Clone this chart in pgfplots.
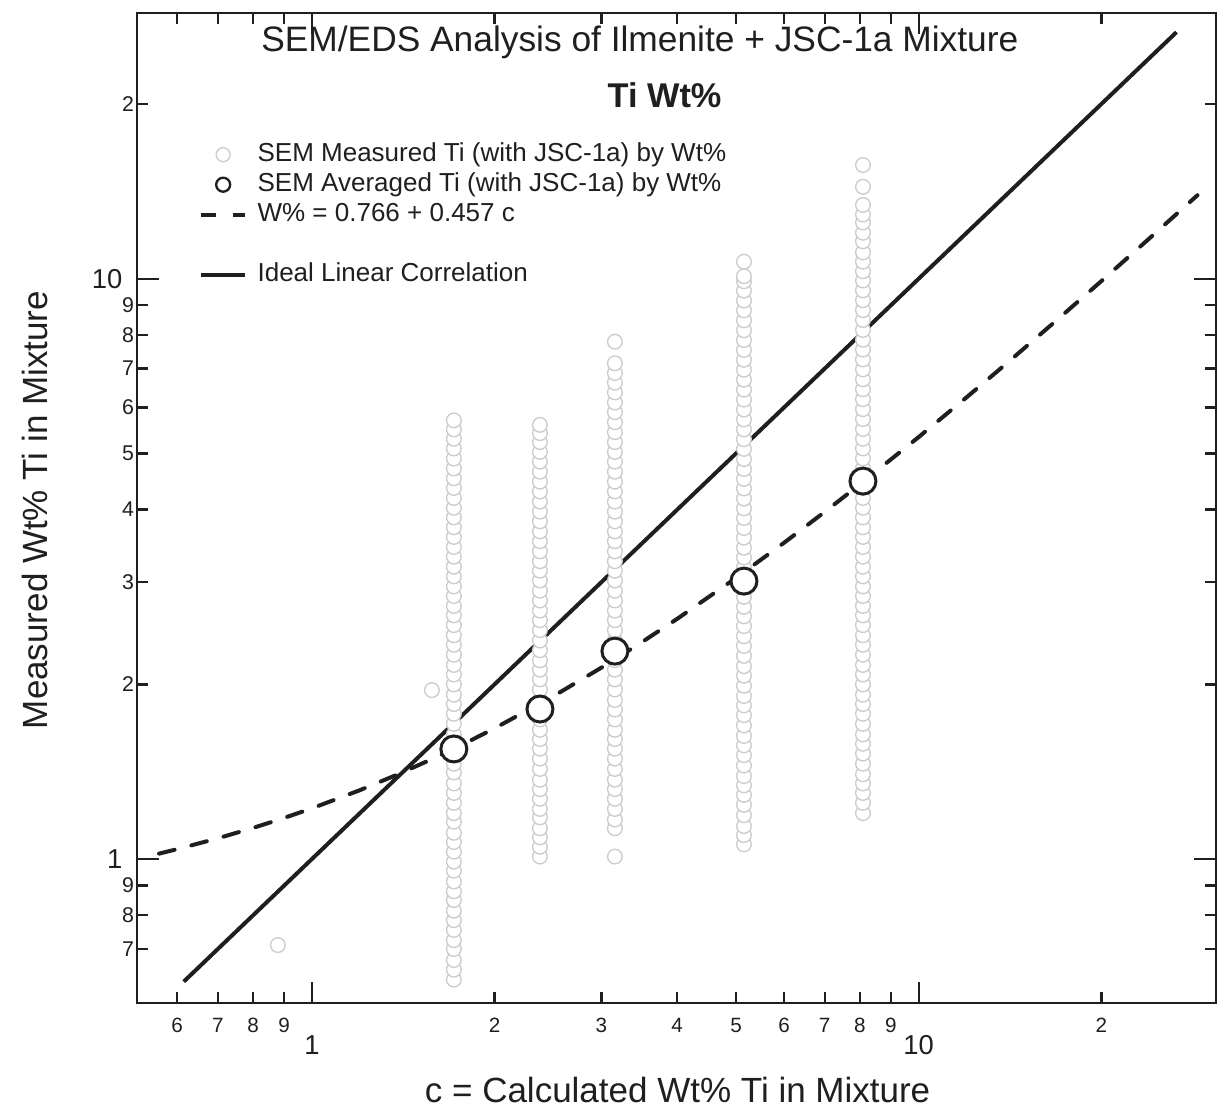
\documentclass[border=0pt]{standalone}
\usepackage{pgfplots}
\pgfplotsset{compat=1.18}
\usepackage{fontspec}
\setmainfont{Liberation Sans}
\definecolor{ink}{gray}{0.12}
\definecolor{meas}{gray}{0.80}

\begin{document}
\begin{tikzpicture}
\begin{axis}[
  name=ax,
  scale only axis, width=323.7pt, height=297pt,
  xmode=log, ymode=log,
  xmin=0.515, xmax=30.9, ymin=0.565, ymax=28.7,
  axis line style={line width=0.75pt, ink},
  every tick/.style={line width=0.7pt, ink},
  major tick length=3.2pt, minor tick length=0pt,
  xtick={0.6,0.7,0.8,0.9,2,3,4,5,6,7,8,9,20},
  xticklabels={6,7,8,9,2,3,4,5,6,7,8,9,2},
  ytick={0.7,0.8,0.9,2,3,4,5,6,7,8,9,20},
  yticklabels={7,8,9,2,3,4,5,6,7,8,9,2},
  xticklabel style={font=\fontsize{6.2}{7}\selectfont, text=ink, yshift=-1pt},
  yticklabel style={font=\fontsize{6.4}{7}\selectfont, text=ink, xshift=2.6pt},
  extra x ticks={1,10}, extra x tick labels={1,10},
  extra y ticks={1,10}, extra y tick labels={1,10},
  extra x tick style={major tick length=6.3pt, xticklabel style={font=\fontsize{8.2}{9}\selectfont, yshift=-5.3pt}},
  extra y tick style={major tick length=6.6pt, yticklabel style={font=\fontsize{8.2}{9}\selectfont, xshift=-3.5pt}},
  xlabel={c = Calculated Wt\% Ti in Mixture},
  ylabel={Measured Wt\% Ti in Mixture},
  xlabel style={at={(axis description cs:0.501,-0.088)}, anchor=center, font=\fontsize{10.5}{12}\selectfont, text=ink},
  ylabel style={at={(axis description cs:-0.0945,0.498)}, anchor=center, font=\fontsize{10.5}{12}\selectfont, text=ink},
  legend image code/.code={\draw[mark repeat=2,mark phase=2,#1] plot coordinates {(0cm,0cm) (0.235cm,0cm) (0.47cm,0cm)};},
  legend style={at={(axis description cs:0.0575,0.871)}, anchor=north west, draw=none, fill=none,
    inner sep=0pt, outer sep=0pt, font=\fontsize{7.8}{9}\selectfont, text=ink,
    row sep=0.6pt, column sep=2.6pt,
    nodes={inner sep=0.5pt, text height=5.8pt, text depth=1.6pt}},
  legend cell align=left,
]
% ideal line
\addplot[ink, line width=1.2pt, forget plot] coordinates {(0.615,0.615) (26.6,26.6)};
% fitted line W% = 0.766 + 0.457 c
\addplot[ink, line width=1.2pt, dash pattern=on 4.8pt off 5.2pt, line cap=round, forget plot] coordinates {
(0.56,1.0219) (0.6,1.0402) (0.7,1.0859) (0.8,1.1316) (0.9,1.1773) (1.0,1.223)
(1.2,1.3144) (1.4,1.4058) (1.6,1.4972) (1.8,1.5886) (2.0,1.68) (2.5,1.9085)
(3,2.137) (3.5,2.3655) (4,2.594) (5,3.051) (6,3.508) (7,3.965) (8,4.422)
(10,5.336) (12,6.25) (14,7.164) (17,8.535) (20,9.906) (24,11.734) (28.8,13.9276)};
% measured points
\addplot[only marks, mark=*, mark size=2.2pt, mark options={draw=meas, fill=white, line width=0.4pt}, forget plot] coordinates {
(0.879,0.711) (1.577,1.955)
(1.714,0.62) (1.714,0.645) (1.714,0.67) (1.714,0.70) (1.714,0.725) (1.714,0.755) (1.714,0.785) (1.714,0.815)
(1.714,0.85) (1.714,0.88) (1.714,0.915) (1.714,0.955) (1.714,0.99) (1.714,1.03) (1.714,1.07) (1.714,1.11)
(1.714,1.16) (1.714,1.2) (1.714,1.25) (1.714,1.3) (1.714,1.35) (1.714,1.41) (1.714,1.46) (1.714,1.52)
(1.714,1.58) (1.714,1.64) (1.714,1.71) (1.714,1.78) (1.714,1.85) (1.714,1.92) (1.714,2.0) (1.714,2.08)
(1.714,2.16) (1.714,2.25) (1.714,2.34) (1.714,2.43) (1.714,2.53) (1.714,2.63) (1.714,2.73) (1.714,2.84)
(1.714,2.95) (1.714,3.07) (1.714,3.19) (1.714,3.32) (1.714,3.45) (1.714,3.59) (1.714,3.73) (1.714,3.88)
(1.714,4.03) (1.714,4.19) (1.714,4.36) (1.714,4.53) (1.714,4.71) (1.714,4.9) (1.714,5.1) (1.714,5.3)
(1.714,5.5) (1.714,5.7)
(2.376,1.01) (2.376,1.05) (2.376,1.09) (2.376,1.13) (2.376,1.18) (2.376,1.22) (2.376,1.27) (2.376,1.32)
(2.376,1.37) (2.376,1.43) (2.376,1.49) (2.376,1.55) (2.376,1.61) (2.376,1.67) (2.376,1.74) (2.376,1.81)
(2.376,1.88) (2.376,1.96) (2.376,2.04) (2.376,2.12) (2.376,2.2) (2.376,2.29) (2.376,2.38) (2.376,2.48)
(2.376,2.58) (2.376,2.68) (2.376,2.79) (2.376,2.9) (2.376,3.02) (2.376,3.14) (2.376,3.26) (2.376,3.39)
(2.376,3.53) (2.376,3.67) (2.376,3.82) (2.376,3.97) (2.376,4.13) (2.376,4.3) (2.376,4.47) (2.376,4.65)
(2.376,4.84) (2.376,5.03) (2.376,5.23) (2.376,5.42) (2.376,5.6)
(3.158,1.01) (3.158,1.13) (3.158,1.17) (3.158,1.22) (3.158,1.27) (3.158,1.32) (3.158,1.37) (3.158,1.43)
(3.158,1.49) (3.158,1.55) (3.158,1.61) (3.158,1.67) (3.158,1.74) (3.158,1.81) (3.158,1.88) (3.158,1.96)
(3.158,2.04) (3.158,2.12) (3.158,2.2) (3.158,2.29) (3.158,2.38) (3.158,2.48) (3.158,2.58) (3.158,2.68)
(3.158,2.79) (3.158,2.9) (3.158,3.02) (3.158,3.14) (3.158,3.26) (3.158,3.39) (3.158,3.53) (3.158,3.67)
(3.158,3.82) (3.158,3.97) (3.158,4.13) (3.158,4.3) (3.158,4.47) (3.158,4.65) (3.158,4.84) (3.158,5.03)
(3.158,5.23) (3.158,5.44) (3.158,5.66) (3.158,5.89) (3.158,6.12) (3.158,6.37) (3.158,6.62) (3.158,6.88)
(3.158,7.15) (3.158,7.79)
(5.153,1.06) (5.153,1.1) (5.153,1.14) (5.153,1.19) (5.153,1.24) (5.153,1.29) (5.153,1.34) (5.153,1.39)
(5.153,1.45) (5.153,1.51) (5.153,1.57) (5.153,1.63) (5.153,1.7) (5.153,1.77) (5.153,1.84) (5.153,1.91)
(5.153,1.99) (5.153,2.07) (5.153,2.15) (5.153,2.24) (5.153,2.33) (5.153,2.42) (5.153,2.52) (5.153,2.62)
(5.153,2.72) (5.153,2.83) (5.153,2.94) (5.153,3.06) (5.153,3.18) (5.153,3.31) (5.153,3.44) (5.153,3.58)
(5.153,3.72) (5.153,3.87) (5.153,4.02) (5.153,4.18) (5.153,4.35) (5.153,4.52) (5.153,4.7) (5.153,4.89)
(5.153,5.09) (5.153,5.29) (5.153,5.5) (5.153,5.72) (5.153,5.95) (5.153,6.19) (5.153,6.44) (5.153,6.7)
(5.153,6.97) (5.153,7.25) (5.153,7.54) (5.153,7.84) (5.153,8.15) (5.153,8.48) (5.153,8.82) (5.153,9.17)
(5.153,9.54) (5.153,9.9) (5.153,10.1) (5.153,10.7)
(8.094,1.2) (8.094,1.25) (8.094,1.3) (8.094,1.35) (8.094,1.4) (8.094,1.46) (8.094,1.52) (8.094,1.58)
(8.094,1.64) (8.094,1.71) (8.094,1.78) (8.094,1.85) (8.094,1.92) (8.094,2.0) (8.094,2.08) (8.094,2.16)
(8.094,2.25) (8.094,2.34) (8.094,2.43) (8.094,2.53) (8.094,2.63) (8.094,2.73) (8.094,2.84) (8.094,2.95)
(8.094,3.07) (8.094,3.19) (8.094,3.32) (8.094,3.45) (8.094,3.59) (8.094,3.73) (8.094,3.88) (8.094,4.03)
(8.094,4.19) (8.094,4.36) (8.094,4.53) (8.094,4.71) (8.094,4.9) (8.094,5.1) (8.094,5.3) (8.094,5.51)
(8.094,5.73) (8.094,5.96) (8.094,6.2) (8.094,6.45) (8.094,6.71) (8.094,6.98) (8.094,7.26) (8.094,7.55)
(8.094,7.85) (8.094,8.16) (8.094,8.49) (8.094,8.83) (8.094,9.18) (8.094,9.55) (8.094,9.93) (8.094,10.3)
(8.094,10.7) (8.094,11.1) (8.094,11.6) (8.094,12.0) (8.094,12.5) (8.094,12.9) (8.094,13.4) (8.094,14.4)
(8.094,15.7)};
% averaged points
\addplot[only marks, mark=*, mark size=3.9pt, mark options={draw=ink, fill=white, line width=0.9pt}, forget plot] coordinates {
(1.714,1.548) (2.376,1.814) (3.158,2.282) (5.153,3.013) (8.094,4.48)};

\addlegendimage{only marks, mark=*, mark size=2.1pt, mark options={draw=meas, fill=white, line width=0.4pt}}
\addlegendentry{SEM Measured Ti (with JSC-1a) by Wt\%}
\addlegendimage{only marks, mark=*, mark size=2.1pt, mark options={draw=ink, fill=white, line width=0.7pt}}
\addlegendentry{SEM Averaged Ti (with JSC-1a) by Wt\%}
\addlegendimage{ink, line width=1.1pt, dash pattern=on 4.5pt off 5pt}
\addlegendentry{W\% = 0.766 + 0.457 c}
\addlegendimage{empty legend}
\addlegendentry{}
\addlegendimage{ink, line width=1.1pt}
\addlegendentry{Ideal Linear Correlation}

\node[font=\fontsize{10.6}{12}\selectfont, text=ink] at (rel axis cs:0.466,0.970) {SEM/EDS Analysis of Ilmenite + JSC-1a Mixture};
\node[font=\fontsize{10.3}{12}\selectfont\bfseries, text=ink] at (rel axis cs:0.489,0.917) {Ti Wt\%};
\end{axis}
\pgfresetboundingbox
\path ([shift={(-41.1pt,-33.6pt)}]ax.south west) rectangle ([shift={(2.7pt,3.9pt)}]ax.north east);
\end{tikzpicture}
\end{document}
